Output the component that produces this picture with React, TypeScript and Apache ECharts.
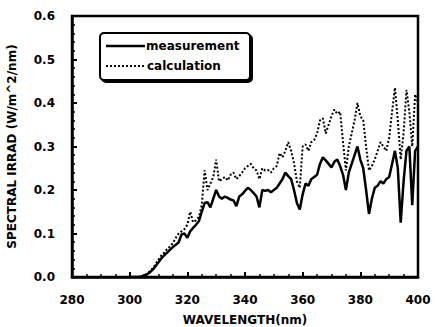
import React, { useEffect, useRef } from "react";
import * as echarts from "echarts";

const wavelengths: number[] = [
  300, 301, 302, 303, 304, 305, 306, 307, 308, 309,
  310, 311, 312, 313, 314, 315, 316, 317, 318, 319,
  320, 321, 322, 323, 324, 325, 326, 327, 328, 329,
  330, 331, 332, 333, 334, 335, 336, 337, 338, 339,
  340, 341, 342, 343, 344, 345, 346, 347, 348, 349,
  350, 351, 352, 353, 354, 355, 356, 357, 358, 359,
  360, 361, 362, 363, 364, 365, 366, 367, 368, 369,
  370, 371, 372, 373, 374, 375, 376, 377, 378, 379,
  380, 381, 382, 383, 384, 385, 386, 387, 388, 389,
  390, 391, 392, 393, 394, 395, 396, 397, 398, 399, 400,
];

const measurement: number[] = [
  0, 0, 0, 0, 0.001, 0.003, 0.006, 0.011, 0.017, 0.025,
  0.034, 0.043, 0.05, 0.056, 0.063, 0.069, 0.074, 0.08, 0.098, 0.1,
  0.09, 0.105, 0.113, 0.12, 0.128, 0.15, 0.17, 0.172, 0.16, 0.18,
  0.2, 0.185, 0.18, 0.185, 0.182, 0.178, 0.176, 0.163, 0.185, 0.19,
  0.198, 0.205, 0.2, 0.193, 0.185, 0.16, 0.2, 0.198, 0.2, 0.195,
  0.2, 0.205, 0.215, 0.225, 0.24, 0.232, 0.225, 0.2, 0.17, 0.155,
  0.19, 0.215, 0.21, 0.225, 0.23, 0.235, 0.26, 0.275, 0.268, 0.26,
  0.252, 0.265, 0.27, 0.255, 0.235, 0.2, 0.24, 0.26, 0.28, 0.3,
  0.27, 0.25, 0.2, 0.145, 0.18, 0.205, 0.21, 0.22, 0.215, 0.225,
  0.23, 0.26, 0.29, 0.25, 0.125, 0.22, 0.29, 0.3, 0.165, 0.29, 0.3,
];

const calculation: number[] = [
  0, 0, 0, 0, 0.001, 0.004, 0.007, 0.013, 0.02, 0.03,
  0.04, 0.05, 0.056, 0.065, 0.07, 0.078, 0.09, 0.1, 0.105, 0.11,
  0.12, 0.15, 0.126, 0.13, 0.138, 0.165, 0.245, 0.2, 0.215, 0.23,
  0.27, 0.22, 0.225, 0.23, 0.222, 0.235, 0.24, 0.225, 0.232, 0.24,
  0.25, 0.255, 0.26, 0.25, 0.245, 0.225, 0.25, 0.245, 0.246, 0.24,
  0.25, 0.255, 0.285, 0.275, 0.29, 0.31, 0.29, 0.262, 0.22, 0.205,
  0.3, 0.305, 0.29, 0.31, 0.315, 0.33, 0.36, 0.365, 0.33, 0.35,
  0.37, 0.385, 0.375, 0.38, 0.31, 0.245, 0.3, 0.33, 0.36, 0.4,
  0.37, 0.36, 0.3, 0.245, 0.255, 0.27, 0.29, 0.31, 0.3, 0.29,
  0.32, 0.38, 0.435, 0.36, 0.27, 0.33, 0.43, 0.38, 0.3, 0.42, 0.4,
];

const seriesNames: string[] = ["measurement", "calculation"];

const FONT = "DejaVu Sans";

export default function App() {
  const ref = useRef<HTMLDivElement>(null);
  useEffect(() => {
    if (!ref.current) return;
    const chart = echarts.init(ref.current, null, { renderer: "svg" });
    const toPairs = (vals: number[]) => wavelengths.map((w, i) => [w, vals[i]]);
    const lx = 100, ly = 33;
    chart.setOption({
      animation: false,
      textStyle: { fontFamily: FONT, fontWeight: "bold", fontSize: 12, color: "#000" },
      grid: {
        left: 72, right: 17, top: 16, bottom: 50, outerBoundsMode: "none",
        show: true, borderColor: "#000", borderWidth: 2.5, backgroundColor: "rgba(0,0,0,0)",
      },
      xAxis: {
        type: "value",
        min: 280,
        max: 400,
        interval: 20,
        name: "WAVELENGTH(nm)",
        nameLocation: "middle",
        nameGap: 37,
        axisLabel: { color: "#000", margin: 17 },
        axisLine: { show: true, lineStyle: { color: "#000", width: 2.5 } },
        axisTick: { show: true, inside: true, length: 5, lineStyle: { color: "#000", width: 2 } },
        minorTick: { show: true, splitNumber: 4, length: 3, lineStyle: { color: "#000", width: 1.5 } },
        splitLine: { show: false },
      },
      yAxis: {
        type: "value",
        min: 0,
        max: 0.6,
        interval: 0.1,
        name: "SPECTRAL IRRAD (W/m^2/nm)",
        nameLocation: "middle",
        nameGap: 54,
        axisLabel: {
          color: "#000",
          margin: 17,
          formatter: (v: number) => v.toFixed(1),
        },
        axisLine: { show: true, lineStyle: { color: "#000", width: 2.5 } },
        axisTick: { show: true, inside: true, length: 5, lineStyle: { color: "#000", width: 2 } },
        minorTick: { show: true, splitNumber: 5, length: 3, lineStyle: { color: "#000", width: 1.5 } },
        splitLine: { show: false },
      },
      graphic: [
        {
          type: "rect",
          shape: { x: lx, y: ly, width: 150, height: 47, r: 4 },
          style: { fill: "#fff", stroke: "#000", lineWidth: 2, shadowColor: "#000", shadowOffsetX: 2, shadowOffsetY: 2, shadowBlur: 0 },
          z: 10,
        },
        {
          type: "line",
          shape: { x1: lx + 6, y1: ly + 13, x2: lx + 45, y2: ly + 13 },
          style: { stroke: "#000", lineWidth: 2.5 },
          z: 11,
        },
        {
          type: "line",
          shape: { x1: lx + 6, y1: ly + 33, x2: lx + 45, y2: ly + 33 },
          style: { stroke: "#000", lineWidth: 2, lineDash: [2, 2] },
          z: 11,
        },
        {
          type: "text",
          x: lx + 46,
          y: ly + 13,
          style: { text: seriesNames[0], fontFamily: FONT, fontWeight: "bold", fontSize: 12, fill: "#000", verticalAlign: "middle" },
          z: 11,
        },
        {
          type: "text",
          x: lx + 47,
          y: ly + 33,
          style: { text: seriesNames[1], fontFamily: FONT, fontWeight: "bold", fontSize: 12, fill: "#000", verticalAlign: "middle" },
          z: 11,
        },
      ],
      series: [
        {
          name: seriesNames[0],
          type: "line",
          data: toPairs(measurement),
          showSymbol: false,
          symbol: "none",
          lineStyle: { color: "#000", width: 2.5, type: "solid" },
          itemStyle: { color: "#000" },
          z: 3,
        },
        {
          name: seriesNames[1],
          type: "line",
          data: toPairs(calculation),
          showSymbol: false,
          symbol: "none",
          lineStyle: { color: "#000", width: 2, type: [2, 2] },
          itemStyle: { color: "#000" },
          z: 2,
        },
      ],
    });
    return () => chart.dispose();
  }, []);
  return <div ref={ref} style={{ width: 435, height: 327, position: "absolute", left: 0, top: 0 }} />;
}
